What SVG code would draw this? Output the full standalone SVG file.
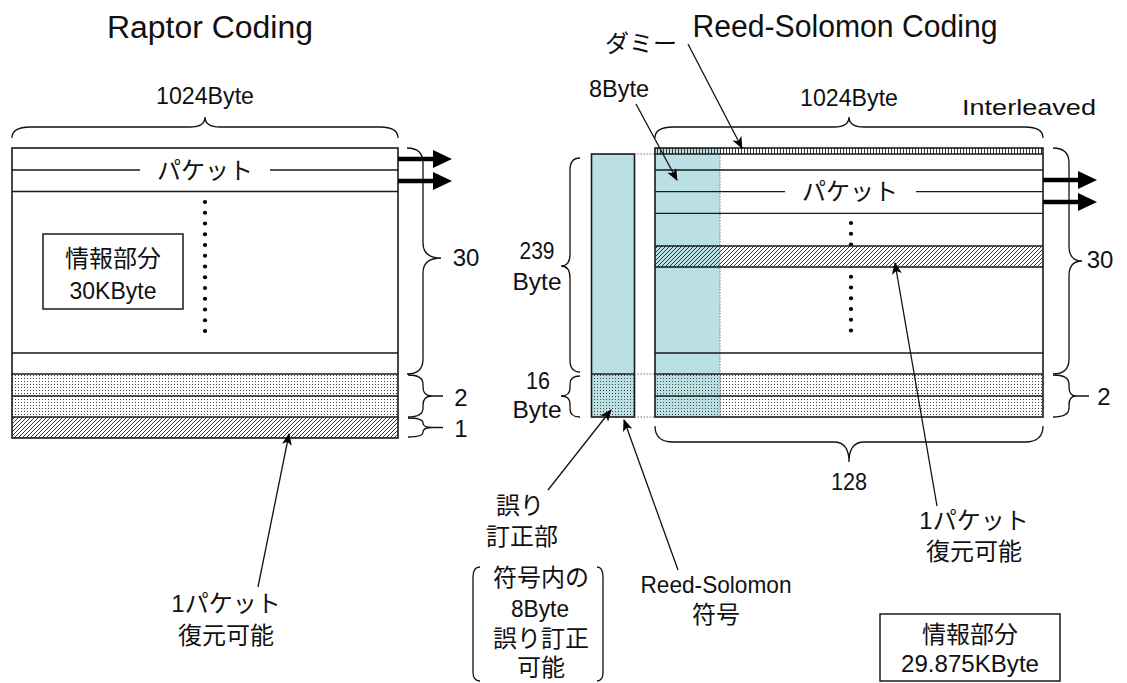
<svg xmlns="http://www.w3.org/2000/svg" width="1127" height="683" viewBox="0 0 1127 683">
<style>
text{font-family:"Liberation Sans","Noto Sans CJK JP","Noto Sans CJK SC",sans-serif;fill:#111;text-anchor:middle;dominant-baseline:central}
.t{font-size:31px}
.m{font-size:24px}
.s{font-size:22px}
.frame{fill:none;stroke:#1a1a1a;stroke-width:1.6}
.row{stroke:#1a1a1a;stroke-width:1.3;fill:none}
.brace{fill:none;stroke:#111;stroke-width:1.3}
.dotln{stroke:#777;stroke-width:1;stroke-dasharray:1.5 1.5;fill:none}
.thin{stroke:#111;stroke-width:1.3;fill:none;marker-end:url(#ah)}
.thick{stroke:#000;stroke-width:4.5}
.cy{fill:#bae0e4}
.box{fill:#fff;stroke:#1a1a1a;stroke-width:1.5}
</style>
<defs>
<pattern id="stip" width="3" height="3" patternUnits="userSpaceOnUse"><rect x="0" y="0" width="1" height="1" fill="#444"/></pattern>
<pattern id="hatch" width="4" height="4" patternUnits="userSpaceOnUse"><path d="M-1,1 L1,-1 M0,4 L4,0 M3,5 L5,3" stroke="#222" stroke-width="0.9"/></pattern>
<pattern id="comb" width="3" height="8" patternUnits="userSpaceOnUse"><rect x="0" y="0" width="1" height="8" fill="#333"/></pattern>
<marker id="ah" viewBox="0 0 12 10" refX="11" refY="5" markerWidth="13" markerHeight="10" markerUnits="userSpaceOnUse" orient="auto"><path d="M0,0 L12,5 L0,10 L3,5 z" fill="#000"/></marker>
</defs>
<rect width="1127" height="683" fill="#fff"/>

<!-- LEFT: Raptor -->
<g id="raptor-title"><text class="t" x="210" y="27" textLength="206" lengthAdjust="spacingAndGlyphs">Raptor Coding</text></g>
<g id="raptor-width"><text class="m" x="205" y="95" textLength="98" lengthAdjust="spacingAndGlyphs">1024Byte</text>
<path class="brace" d="M12,138 Q12,127 30,127 L190,127 Q205,127 205,117 Q205,127 220,127 L380,127 Q398,127 398,138"/></g>
<g id="raptor-block">
<rect x="12" y="148" width="386" height="290" fill="#fff"/>
<rect x="12" y="374" width="386" height="43" fill="url(#stip)"/>
<rect x="12" y="417" width="386" height="21" fill="url(#hatch)"/>
<path class="row" d="M12,170 H140 M270,170 H398 M12,191.5 H398 M12,353 H398 M12,374 H398 M12,396 H398 M12,417 H398"/>
<rect class="frame" x="12" y="148" width="386" height="290"/>
<text class="m" x="205" y="170">パケット</text>
<g fill="#000"><circle cx="205" cy="202" r="2.1"/><circle cx="205" cy="212.75" r="2.1"/><circle cx="205" cy="223.5" r="2.1"/><circle cx="205" cy="234.25" r="2.1"/><circle cx="205" cy="245" r="2.1"/><circle cx="205" cy="255.75" r="2.1"/><circle cx="205" cy="266.5" r="2.1"/><circle cx="205" cy="277.25" r="2.1"/><circle cx="205" cy="288" r="2.1"/><circle cx="205" cy="298.75" r="2.1"/><circle cx="205" cy="309.5" r="2.1"/><circle cx="205" cy="320.25" r="2.1"/><circle cx="205" cy="331" r="2.1"/></g>
</g>
<g id="raptor-info"><rect class="box" x="43" y="234" width="140" height="75"/>
<text class="m" x="113" y="258">情報部分</text>
<text class="m" x="113" y="290" textLength="87" lengthAdjust="spacingAndGlyphs">30KByte</text></g>
<g id="raptor-counts">
<path class="brace" d="M407,148 Q423,148 423,163 L423,243 Q423,258 441,258 Q423,258 423,273 L423,359 Q423,374 407,374"/>
<text class="m" x="466" y="257">30</text>
<path class="brace" d="M408,375 Q423,375 423,384 L423,387 Q423,396 432,396 Q423,396 423,405 L423,408 Q423,417 408,417 M432,396 H443"/>
<text class="m" x="461" y="397">2</text>
<path class="brace" d="M408,418 Q423,418 423,423 Q423,427.5 432,427.5 Q423,427.5 423,432 Q423,437 408,437 M432,427.5 H443"/>
<text class="m" x="461" y="428">1</text>
</g>
<g id="raptor-recover"><text class="m" x="226" y="603">1パケット</text><text class="m" x="226" y="635">復元可能</text></g>

<!-- RIGHT: Reed-Solomon -->
<g id="rs-title"><text class="t" x="845" y="26" textLength="305" lengthAdjust="spacingAndGlyphs">Reed-Solomon Coding</text></g>
<g id="rs-dummy-label"><text class="m" x="641" y="43">ダミー</text></g>
<g id="rs-8byte-label"><text class="m" x="619" y="88" textLength="60" lengthAdjust="spacingAndGlyphs">8Byte</text></g>
<g id="rs-width"><text class="m" x="849" y="97" textLength="98" lengthAdjust="spacingAndGlyphs">1024Byte</text>
<text class="s" x="1029" y="107" textLength="134" lengthAdjust="spacingAndGlyphs">Interleaved</text>
<path class="brace" d="M655,138 Q655,127 673,127 L834,127 Q849,127 849,117 Q849,127 864,127 L1025,127 Q1043,127 1043,138"/></g>

<g id="rs-column">
<rect class="cy" x="591.5" y="154" width="43" height="263"/>
<rect x="591.5" y="374" width="43" height="43" fill="url(#stip)"/>
<path class="row" d="M591.5,374 H634.5"/>
<rect class="frame" x="591.5" y="154" width="43" height="263"/>
</g>
<g id="rs-block">
<rect x="655" y="148" width="388" height="269" fill="#fff"/>
<rect class="cy" x="655" y="148" width="65" height="269"/>
<g fill="#000"><circle cx="851" cy="223" r="2.1"/><circle cx="851" cy="233.75" r="2.1"/><circle cx="851" cy="244.5" r="2.1"/><circle cx="851" cy="266" r="2.1"/><circle cx="851" cy="276.75" r="2.1"/><circle cx="851" cy="287.5" r="2.1"/><circle cx="851" cy="298.25" r="2.1"/><circle cx="851" cy="309" r="2.1"/><circle cx="851" cy="319.75" r="2.1"/><circle cx="851" cy="330.5" r="2.1"/></g>
<rect x="720" y="246" width="323" height="21" fill="#fff"/>
<rect x="655" y="246" width="388" height="21" fill="url(#hatch)"/>
<rect x="655" y="374" width="388" height="43" fill="url(#stip)"/>
<rect x="655" y="148" width="388" height="6" fill="url(#comb)"/>
<path class="dotln" d="M720,154 V417"/>
<path class="row" d="M655,154 H1043 M655,170 H1043 M655,191.7 H785 M916,191.7 H1043 M655,213.3 H1043 M655,246 H1043 M655,267 H1043 M655,353 H1043 M655,374 H1043 M655,396 H1043"/>
<rect class="frame" x="655" y="148" width="388" height="269"/>
<text class="m" x="850" y="191">パケット</text>
</g>
<g id="rs-links"><path class="dotln" d="M634.5,154 H655 M634.5,374 H655 M634.5,417 H655"/></g>
<g id="rs-counts">
<path class="brace" d="M1053,148 Q1069,148 1069,163 L1069,246 Q1069,261 1082,261 Q1069,261 1069,276 L1069,359 Q1069,374 1053,374"/>
<text class="m" x="1100" y="259">30</text>
<path class="brace" d="M1053,375 Q1069,375 1069,384 L1069,387 Q1069,396 1076,396 Q1069,396 1069,405 L1069,408 Q1069,417 1053,417 M1076,396 H1089"/>
<text class="m" x="1104" y="396">2</text>
</g>
<g id="rs-bytes">
<path class="brace" d="M580,158 Q570,158 570,170 L570,254 Q570,266 561,266 Q570,266 570,278 L570,360 Q570,372 580,372"/>
<text class="m" x="537" y="250" textLength="35" lengthAdjust="spacingAndGlyphs">239</text>
<text class="m" x="537" y="281" textLength="49" lengthAdjust="spacingAndGlyphs">Byte</text>
<path class="brace" d="M580,376 Q570,376 570,384 L570,388 Q570,396 561,396 Q570,396 570,404 L570,409 Q570,417 580,417"/>
<text class="m" x="538" y="380" textLength="24" lengthAdjust="spacingAndGlyphs">16</text>
<text class="m" x="537" y="409" textLength="49" lengthAdjust="spacingAndGlyphs">Byte</text>
</g>
<g id="rs-128"><path class="brace" d="M655,426 Q655,442 673,442 L834,442 Q849,442 849,462 Q849,442 864,442 L1025,442 Q1043,442 1043,426"/>
<text class="m" x="849" y="481" textLength="36" lengthAdjust="spacingAndGlyphs">128</text></g>
<g id="rs-recover"><text class="m" x="974" y="520">1パケット</text><text class="m" x="974" y="551">復元可能</text></g>
<g id="rs-ecc-label"><text class="m" x="520" y="505">誤り</text><text class="m" x="522" y="536">訂正部</text></g>
<g id="rs-ecc-note">
<path class="brace" d="M480,567 Q473,567 473,577 L473,672 Q473,681 480,681 M597,567 Q603,567 603,577 L603,672 Q603,681 597,681"/>
<text class="m" x="541" y="577">符号内の</text>
<text class="m" x="540" y="608" textLength="58" lengthAdjust="spacingAndGlyphs">8Byte</text>
<text class="m" x="541" y="638">誤り訂正</text>
<text class="m" x="541" y="667">可能</text>
</g>
<g id="rs-code-label"><text class="m" x="716" y="584" textLength="151" lengthAdjust="spacingAndGlyphs">Reed-Solomon</text><text class="m" x="716" y="614">符号</text></g>
<g id="rs-info"><rect class="box" x="880" y="614" width="180" height="67"/>
<text class="m" x="970" y="634">情報部分</text>
<text class="m" x="970" y="663" textLength="138" lengthAdjust="spacingAndGlyphs">29.875KByte</text></g>

<g id="connectors">
<line class="thick" x1="398" y1="159" x2="436" y2="159"/><polygon points="433,150 452,159 433,168" fill="#000"/>
<line class="thick" x1="398" y1="181" x2="436" y2="181"/><polygon points="433,172 452,181 433,190" fill="#000"/>
<line class="thick" x1="1043" y1="180" x2="1081" y2="180"/><polygon points="1078,171 1097,180 1078,189" fill="#000"/>
<line class="thick" x1="1043" y1="202" x2="1081" y2="202"/><polygon points="1078,193 1097,202 1078,211" fill="#000"/>
<line class="thin" x1="258" y1="587" x2="289" y2="434"/>
<line class="thin" x1="688" y1="44" x2="742" y2="148"/>
<line class="thin" x1="636" y1="104" x2="677" y2="180"/>
<line class="thin" x1="548" y1="490" x2="611" y2="410"/>
<line class="thin" x1="678" y1="570" x2="624" y2="420"/>
<line class="thin" x1="937" y1="506" x2="895" y2="263"/>
</g>
</svg>
